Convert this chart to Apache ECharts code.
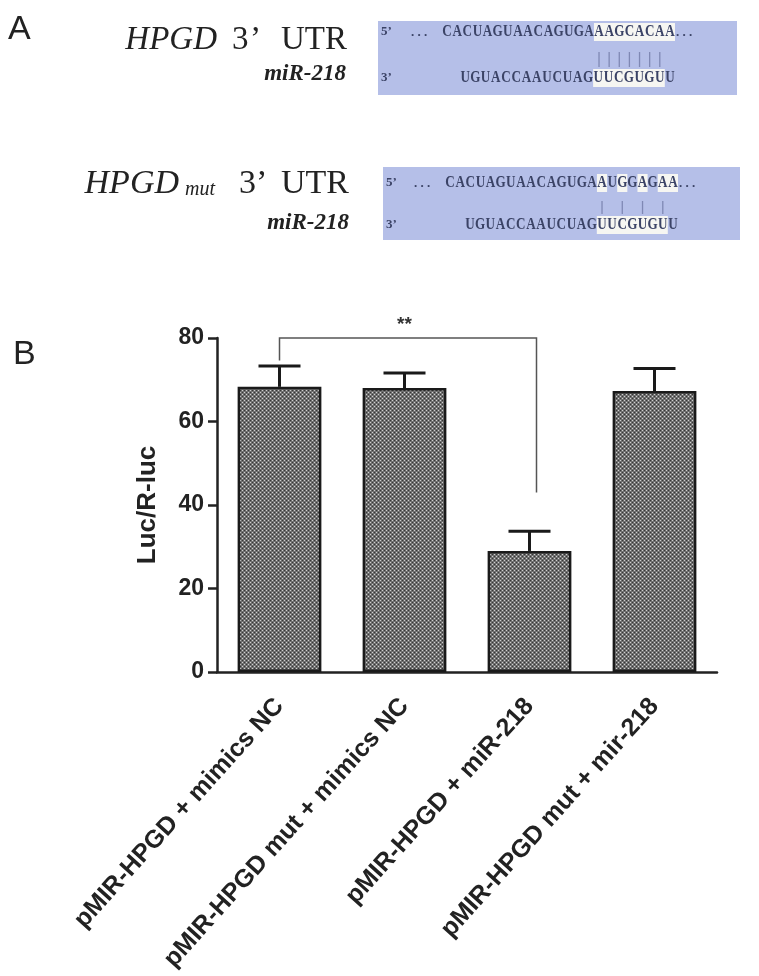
<!DOCTYPE html>
<html><head><meta charset="utf-8">
<script src="https://cdn.jsdelivr.net/npm/echarts@6/dist/echarts.min.js"></script>
<style>html,body{margin:0;padding:0;background:#fff}#c{width:759px;height:976px}</style>
</head><body><div id="c"></div>
<script>
// ---- data ----
const categories = ['pMIR-HPGD + mimics NC', 'pMIR-HPGD mut + mimics NC', 'pMIR-HPGD + miR-218', 'pMIR-HPGD mut + mir-218'];
const means = [68.3, 68.0, 29.0, 67.3];
const upperErr = [73.3, 71.6, 33.7, 72.7];
const yTicks = [0, 20, 40, 60, 80];
const bracket = [0, 2, 80, 74.6, 43]; // from cat, to cat, top, left end, right end
const sigLabel = '**';
const seqWT = 'CACUAGUAACAGUGAAAGCACAA';
const seqMut = 'CACUAGUAACAGUGAAUGGAGAA';
const seqMir = 'UGUACCAAUCUAGUUCGUGUU';
const hlWT = [15, 16, 17, 18, 19, 20, 21, 22];
const hlMut = [15, 17, 19, 21, 22];
const hlMir = [13, 14, 15, 16, 17, 18, 19];
const pairsWT = [15, 16, 17, 18, 19, 20, 21];
const pairsMut = [15, 17, 19, 21];

const chart = echarts.init(document.getElementById('c'), null, {renderer: 'canvas'});

// bar pattern
const cv = document.createElement('canvas');
cv.width = 4; cv.height = 4;
const cx = cv.getContext('2d');
cx.fillStyle = '#707070'; cx.fillRect(0, 0, 4, 4);
cx.fillStyle = '#d0d0d0'; cx.fillRect(0, 0, 1, 1); cx.fillRect(2, 2, 1, 1);
cx.fillStyle = '#363636'; cx.fillRect(2, 0, 1, 1); cx.fillRect(0, 2, 1, 1);

const txtCol = '#3b4366';
const boxCol = '#b5bfe8';
const graphics = [];
function seqRow(str, x0, pitch, y, hl) {
  let i = 0;
  while (i < str.length) {
    if (hl.indexOf(i) >= 0) {
      let j = i;
      while (hl.indexOf(j + 1) >= 0) j++;
      graphics.push({type: 'rect', shape: {x: x0 + i * pitch, y: y - 9, width: (j - i + 1) * pitch, height: 18},
        style: {fill: '#f6f6f2'}, z: 1});
      i = j + 1;
    } else i++;
  }
  for (let k = 0; k < str.length; k++) {
    graphics.push({type: 'text', x: x0 + k * pitch + pitch / 2, y: y, scaleX: 0.82, z: 2,
      style: {text: str[k], x: 0, y: 0, align: 'center', verticalAlign: 'middle',
        font: 'bold 16px "Liberation Serif"', fill: txtCol}});
  }
}
function bars(x0, pitch, y1, y2, idx) {
  idx.forEach(function (k) {
    const x = x0 + k * pitch + pitch / 2;
    graphics.push({type: 'line', shape: {x1: x, y1: y1, x2: x, y2: y2}, style: {stroke: '#7f88b4', lineWidth: 1.3}, z: 2});
  });
}
function label(text, x, y) {
  graphics.push({type: 'text', x: x, y: y, z: 2,
    style: {text: text, x: 0, y: 0, align: 'left', verticalAlign: 'middle', font: 'bold 13px "Liberation Serif"', fill: txtCol}});
}
function t(text, x, y, font, align) {
  graphics.push({type: 'text', x: x, y: y, z: 2,
    style: {text: text, x: 0, y: 0, align: align || 'left', verticalAlign: 'middle', font: font, fill: '#222'}});
}
// box 1
graphics.push({type: 'rect', shape: {x: 378, y: 21, width: 359, height: 74}, style: {fill: boxCol}, z: 0});
label('5’', 381, 32); label('. . .', 411, 33); label('. . .', 676, 33);
seqRow(seqWT, 442, 10.13, 32, hlWT);
bars(442, 10.13, 52, 67, pairsWT);
label('3’', 381, 78);
seqRow(seqMir, 460, 10.24, 78, hlMir);
// box 2
graphics.push({type: 'rect', shape: {x: 383, y: 167, width: 357, height: 73}, style: {fill: boxCol}, z: 0});
label('5’', 386, 183); label('. . .', 414, 184); label('. . .', 679, 184);
seqRow(seqMut, 445, 10.13, 183, hlMut);
bars(445, 10.13, 201, 214, pairsMut);
label('3’', 386, 225);
seqRow(seqMir, 465, 10.14, 225, hlMir);

// left labels
t('HPGD', 217, 40, 'italic 33px "Liberation Serif"', 'right');
t('3', 232, 40, '33px "Liberation Serif"');
t('’', 250, 40, '33px "Liberation Serif"');
t('UTR', 347, 40, '33px "Liberation Serif"', 'right');
t('miR-218', 346, 74, 'italic bold 23px "Liberation Serif"', 'right');
t('HPGD', 179, 184, 'italic 34px "Liberation Serif"', 'right');
t('mut', 185, 190, 'italic 20px "Liberation Serif"');
t('3', 239, 184, '34px "Liberation Serif"');
t('’', 256, 184, '34px "Liberation Serif"');
t('UTR', 349, 184, '34px "Liberation Serif"', 'right');
t('miR-218', 349, 223, 'italic bold 23px "Liberation Serif"', 'right');
t('A', 8, 30, '34px "Liberation Sans"');
t('B', 13, 355, '34px "Liberation Sans"');

const axisCol = '#222';
chart.setOption({
  animation: false,
  grid: {left: 217, right: 42, top: 338, bottom: 304, containLabel: false},
  xAxis: {
    type: 'category', data: categories, boundaryGap: true,
    axisLine: {lineStyle: {color: axisCol, width: 2.5}},
    axisTick: {alignWithLabel: true, length: 10, lineStyle: {color: axisCol, width: 2.5}},
    axisLabel: {rotate: 48, interval: 0, margin: 30, color: axisCol, fontSize: 25, fontWeight: 'bold', fontFamily: '"Liberation Sans", Arial'}
  },
  yAxis: {
    type: 'value', min: yTicks[0], max: yTicks[yTicks.length - 1], interval: 20,
    name: 'Luc/R-luc', nameLocation: 'middle', nameRotate: 90, nameGap: 56,
    nameTextStyle: {color: axisCol, fontSize: 26, fontWeight: 'bold', fontFamily: '"Liberation Sans", Arial'},
    axisLine: {show: true, lineStyle: {color: axisCol, width: 2.5}},
    axisTick: {show: true, length: 9, lineStyle: {color: axisCol, width: 2.5}},
    axisLabel: {margin: 13, color: axisCol, fontSize: 23, fontWeight: 'bold', fontFamily: '"Liberation Sans", Arial'},
    splitLine: {show: false}
  },
  graphic: graphics,
  series: [
    {type: 'bar', data: means, barWidth: '67%', z: 2,
      itemStyle: {color: {image: cv, repeat: 'repeat'}, borderColor: '#1a1a1a', borderWidth: 2.5}},
    {type: 'custom', z: 3,
      data: means.map(function (m, i) { return [i, m, upperErr[i]]; }),
      renderItem: function (params, api) {
        const p0 = api.coord([api.value(0), api.value(1)]);
        const p1 = api.coord([api.value(0), api.value(2)]);
        const st = {stroke: '#1a1a1a', lineWidth: 3};
        return {type: 'group', children: [
          {type: 'line', shape: {x1: p0[0], y1: p0[1], x2: p1[0], y2: p1[1]}, style: st},
          {type: 'line', shape: {x1: p1[0] - 21, y1: p1[1], x2: p1[0] + 21, y2: p1[1]}, style: st}
        ]};
      }},
    {type: 'custom', z: 4,
      data: [bracket],
      renderItem: function (params, api) {
        const a = api.coord([api.value(0), api.value(2)]);
        const b = api.coord([api.value(1), api.value(2)]);
        const la = api.coord([api.value(0), api.value(3)]);
        const rb = api.coord([api.value(1), api.value(4)]);
        const xr = b[0] + 7;
        const st = {stroke: '#555', lineWidth: 1.5, fill: null};
        const mid = api.coord([(api.value(0) + api.value(1)) / 2, api.value(2)]);
        return {type: 'group', children: [
          {type: 'polyline', shape: {points: [[la[0], la[1]], [a[0], a[1]], [xr, b[1]], [xr, rb[1]]]}, style: st},
          {type: 'text', style: {text: sigLabel, x: mid[0], y: mid[1] - 13, align: 'center', verticalAlign: 'middle',
            font: 'bold 19px "Liberation Sans"', fill: '#333'}}
        ]};
      }}
  ]
});
</script></body></html>
